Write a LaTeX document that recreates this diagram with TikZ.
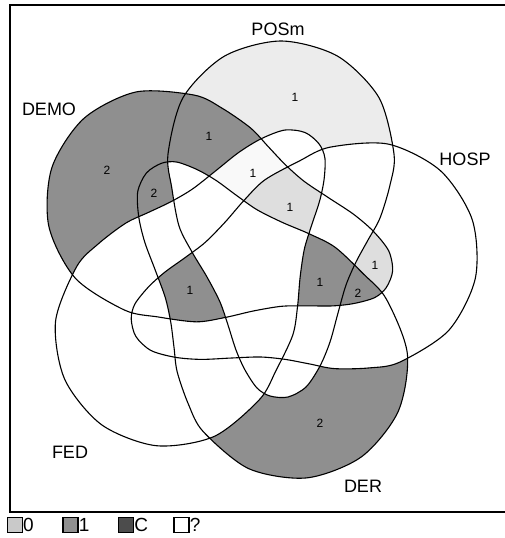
\documentclass[tikz,border=0pt]{standalone}
\usepackage{fontspec}
\setmainfont{Liberation Sans}
\usepackage{tikz}
\usepackage{xcolor}
\usetikzlibrary{positioning}
\definecolor{PaleGray}{RGB}{236,236,236}
\definecolor{LightGray}{RGB}{222,222,222}
\definecolor{NearWhite}{RGB}{249,249,249}
\definecolor{MidGray}{RGB}{143,143,143}
\definecolor{ZeroGray}{RGB}{201,201,201}
\definecolor{DarkGray}{RGB}{76,76,76}

% one set with its lobe on top (POSm), the other four are turned copies
\newcommand{\setshape}{plot[smooth cycle] coordinates {(281,41) (337.5,56.1) (378.9,97.5) (394,154) (390,185) (380,218) (368,240) (356,262) (346,285) (338,313) (330,342) (320,366) (306,387) (288,397) (270,396) (257,388) (245,370) (236,350) (228,325) (220,302) (207,277) (192,252) (179,226) (171.8,188) (168,154) (183.1,97.5) (224.5,56.1)}}
% inside / outside of a turned set (the frame runs the other way round)
\newcommand{\inset}[1]{\clip[rotate around={#1:(253.6,262)}] \setshape;}
\newcommand{\outset}[1]{\clip[rotate around={#1:(253.6,262)}] (-400,-400) -- (-400,900) -- (900,900) -- (900,-400) -- cycle \setshape;}

\begin{document}
\begin{tikzpicture}[x=1pt, y=-1pt,
    setline/.style={draw=black, line width=1.1pt},
    frame/.style={draw=black, line width=1.5pt},
    setname/.style={font=\fontsize{18}{20}\selectfont, inner sep=0pt},
    count/.style={font=\fontsize{12}{13}\selectfont, inner sep=0pt},
    legbox/.style={rectangle, draw=black, line width=1.1pt, minimum size=15pt, inner sep=0pt},
    legtext/.style={font=\fontsize{19}{20}\selectfont, inner sep=0pt}
]
\useasboundingbox (0,0) rectangle (505,538);

% Shaded regions (P=0, HOSP=-72, DER=-144, FED=144, DEMO=72)
\begin{scope}\inset{0}\outset{-72}\outset{-144}\outset{144}\outset{72}\fill[PaleGray] (0,0) rectangle (505,512);\end{scope}
\begin{scope}\inset{72}\outset{0}\outset{-72}\outset{-144}\outset{144}\fill[MidGray] (0,0) rectangle (505,512);\end{scope}
\begin{scope}\inset{0}\inset{72}\outset{-72}\outset{-144}\outset{144}\fill[MidGray] (0,0) rectangle (505,512);\end{scope}
\begin{scope}\inset{72}\inset{-144}\outset{0}\outset{-72}\outset{144}\fill[MidGray] (0,0) rectangle (505,512);\end{scope}
\begin{scope}\inset{0}\inset{144}\inset{72}\outset{-72}\outset{-144}\fill[NearWhite] (0,0) rectangle (505,512);\end{scope}
\begin{scope}\inset{0}\inset{144}\inset{72}\inset{-72}\outset{-144}\fill[LightGray] (0,0) rectangle (505,512);\end{scope}
\begin{scope}\inset{72}\inset{-72}\outset{0}\outset{-144}\outset{144}\fill[LightGray] (0,0) rectangle (505,512);\end{scope}
\begin{scope}\inset{0}\inset{-144}\inset{72}\inset{-72}\outset{144}\fill[MidGray] (0,0) rectangle (505,512);\end{scope}
\begin{scope}\inset{-144}\inset{72}\inset{-72}\outset{0}\outset{144}\fill[MidGray] (0,0) rectangle (505,512);\end{scope}
\begin{scope}\inset{144}\inset{-72}\inset{-144}\inset{72}\outset{0}\fill[MidGray] (0,0) rectangle (505,512);\end{scope}
\begin{scope}\inset{-144}\outset{0}\outset{-72}\outset{144}\outset{72}\fill[MidGray] (0,0) rectangle (505,512);\end{scope}

% The five sets
\foreach \a in {0,-72,-144,144,72} {
    \draw[setline, rotate around={\a:(253.6,262)}] \setshape;
}

% Frame
\draw[frame] (10,5) rectangle (508,512);

% Set names
\node[setname] (posm) at (278,29) {POSm};
\node[setname] (demo) at (49,109) {DEMO};
\node[setname] (hosp) at (465,159) {HOSP};
\node[setname] (fed) at (70,452) {FED};
\node[setname] (der) at (363,486) {DER};

% Counts
\node[count] (cPosm) at (295,97) {1};
\node[count] (cDemo) at (107,170) {2};
\node[count] (cPosmDemo) at (209,136) {1};
\node[count] (cDemoDer) at (154,193) {2};
\node[count] (cPosmFedDemo) at (253,173) {1};
\node[count] (cPosmFedDemoHosp) at (290,207) {1};
\node[count] (cDemoHosp) at (375,265) {1};
\node[count] (cPosmDerDemoHosp) at (320,282) {1};
\node[count] (cDerDemoHosp) at (358,293) {2};
\node[count] (cFedHospDerDemo) at (190,290) {1};
\node[count] (cDer) at (320,423) {2};

% Legend
\foreach \i/\c/\t in {0/ZeroGray/0, 1/MidGray/1, 2/DarkGray/C, 3/white/?} {
    \node[legbox, fill=\c] (box\i) at (15+55.5*\i, 525) {};
    \node[legtext, right=0pt of box\i] (key\i) {\t};
}

\end{tikzpicture}
\end{document}
